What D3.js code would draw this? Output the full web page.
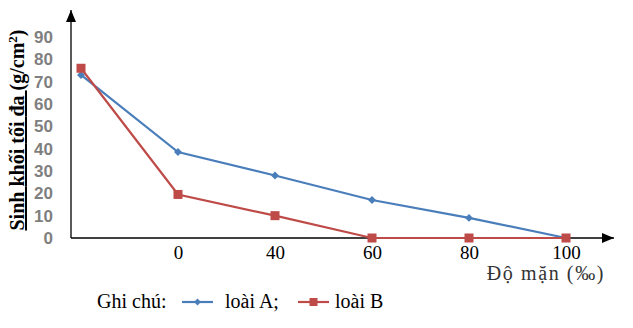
<!DOCTYPE html>
<html>
<head>
<meta charset="utf-8">
<script src="https://cdn.jsdelivr.net/npm/d3@7"></script>
<style>
  html, body { margin: 0; padding: 0; background: #fff; }
  svg { display: block; }
</style>
</head>
<body>
<svg id="chart" width="633" height="328"></svg>
<script>
const categories = ["", "0", "40", "60", "80", "100"];
const seriesA = [73, 38.5, 28, 17, 9, 0];
const seriesB = [76, 19.5, 10, 0, 0, 0];
const yTicks = [0, 10, 20, 30, 40, 50, 60, 70, 80, 90];
const seriesNames = ["loài A;", "loài B"];
const yTitle = ["Sinh", "khối", "tối", "đa", "(g/cm", "2", ")"];
const xTitle = "Độ mặn (‰)";
const legendTitle = "Ghi chú:";

const svg = d3.select("#chart");
const serif = "'Liberation Serif', 'Times New Roman', serif";

const x = d3.scalePoint().domain(categories).range([81, 566]);
const y = d3.scaleLinear().domain([0, 90]).range([238, 37]);

const defs = svg.append("defs");
defs.append("marker").attr("id", "arrowUp")
  .attr("viewBox", "0 0 10 12").attr("refX", 5).attr("refY", 0)
  .attr("markerWidth", 10).attr("markerHeight", 12).attr("markerUnits", "userSpaceOnUse")
  .attr("orient", "0")
  .append("path").attr("d", "M0,12 L5,0 L10,12 Z").attr("fill", "#000");
defs.append("marker").attr("id", "arrowRight")
  .attr("viewBox", "0 0 12 10").attr("refX", 12).attr("refY", 5)
  .attr("markerWidth", 12).attr("markerHeight", 10).attr("markerUnits", "userSpaceOnUse")
  .attr("orient", "0")
  .append("path").attr("d", "M0,0 L12,5 L0,10 Z").attr("fill", "#000");

// Y axis tick labels
const yAxis = d3.axisLeft(y).tickValues(yTicks).tickSize(0).tickPadding(0);
const gy = svg.append("g").attr("transform", "translate(53,0)").call(yAxis);
gy.select(".domain").remove();
gy.selectAll("text")
  .attr("font-family", "'Liberation Sans', Arial, sans-serif")
  .attr("font-weight", "bold")
  .attr("font-size", 17)
  .attr("fill", "#7f7f7f");

// X axis tick labels
const xAxis = d3.axisBottom(x).tickSize(0).tickPadding(0);
const gx = svg.append("g").attr("transform", "translate(0,238)").call(xAxis);
gx.select(".domain").remove();
gx.selectAll("text")
  .attr("y", 21)
  .attr("dy", 0)
  .attr("font-family", serif)
  .attr("font-size", 19)
  .attr("fill", "#000");

// Axis lines with arrows
svg.append("line").attr("x1", 71).attr("y1", 238).attr("x2", 71).attr("y2", 10)
  .attr("stroke", "#000").attr("stroke-width", 1.3).attr("marker-end", "url(#arrowUp)");
svg.append("line").attr("x1", 71).attr("y1", 238).attr("x2", 614).attr("y2", 238)
  .attr("stroke", "#000").attr("stroke-width", 1.3).attr("marker-end", "url(#arrowRight)");

// Y axis title
const yt = svg.append("text")
  .attr("transform", "translate(24,130) rotate(-90)")
  .attr("text-anchor", "middle")
  .attr("font-family", serif)
  .attr("font-weight", "bold")
  .attr("font-size", 20)
  .attr("fill", "#000");
yTitle.forEach((w, i) => {
  const sep = (i < 4) ? " " : "";
  const t = yt.append("tspan").text(w + sep);
  if (i === 0) t.style("text-decoration", "underline");
  else if (i < 4) t.style("text-decoration", "underline dotted #e04040");
  if (i === 5) t.attr("font-size", 13).attr("dy", -7);
  if (i === 6) t.attr("dy", 7);
});

// X axis title
svg.append("text")
  .attr("x", 605).attr("y", 280)
  .attr("text-anchor", "end")
  .attr("font-family", serif)
  .attr("font-size", 20)
  .attr("letter-spacing", 1.6)
  .attr("fill", "#333")
  .text(xTitle);

const colors = ["#4a7ebb", "#be4b48"];
const data = [seriesA, seriesB];
const line = d3.line().x((d, i) => x(categories[i])).y(d => y(d));

data.forEach((s, k) => {
  svg.append("path").datum(s).attr("d", line)
    .attr("fill", "none").attr("stroke", colors[k]).attr("stroke-width", 2.2);
});
// markers
svg.selectAll(".ma").data(seriesA).enter().append("path")
  .attr("transform", (d, i) => `translate(${x(categories[i])},${y(d)})`)
  .attr("d", d3.symbol().type(d3.symbolDiamond2).size(40))
  .attr("fill", colors[0]);
svg.selectAll(".mb").data(seriesB).enter().append("rect")
  .attr("x", (d, i) => x(categories[i]) - 4.5).attr("y", d => y(d) - 4.5)
  .attr("width", 9).attr("height", 9)
  .attr("fill", colors[1]);

// Legend
svg.append("text").attr("x", 97).attr("y", 308)
  .attr("font-family", serif).attr("font-size", 20).attr("fill", "#000")
  .text(legendTitle);
const legX = [[182, 213, 225], [298, 329, 335]];
legX.forEach((p, k) => {
  svg.append("line").attr("x1", p[0]).attr("x2", p[1]).attr("y1", 302).attr("y2", 302)
    .attr("stroke", colors[k]).attr("stroke-width", 2.2);
  const cx = (p[0] + p[1]) / 2;
  if (k === 0) {
    svg.append("path").attr("transform", `translate(${cx},302)`)
      .attr("d", d3.symbol().type(d3.symbolDiamond2).size(30)).attr("fill", colors[0]);
  } else {
    svg.append("rect").attr("x", cx - 4).attr("y", 298).attr("width", 8).attr("height", 8)
      .attr("fill", colors[1]);
  }
  svg.append("text").attr("x", p[2]).attr("y", 308)
    .attr("font-family", serif).attr("font-size", 20).attr("fill", "#000")
    .text(seriesNames[k]);
});
</script>
</body>
</html>
